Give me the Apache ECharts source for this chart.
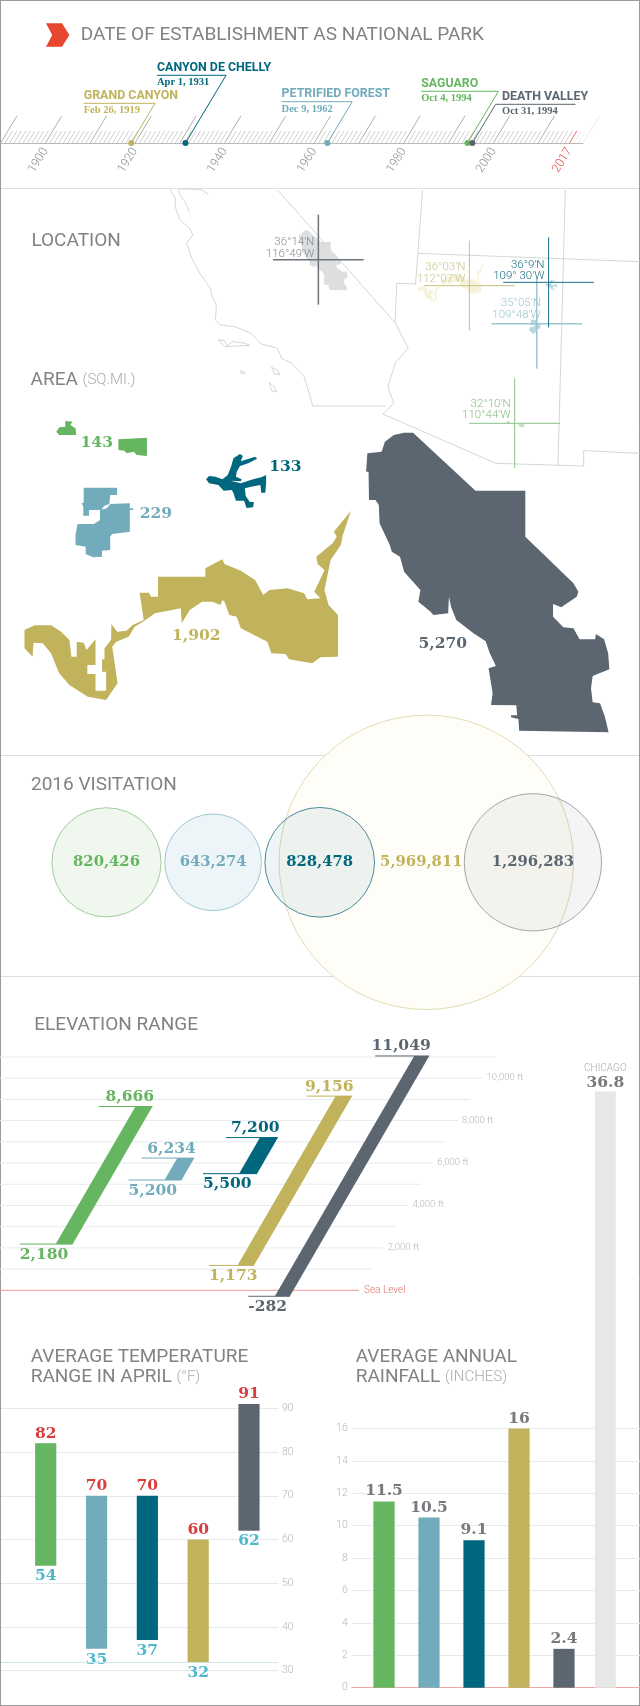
<!DOCTYPE html>
<html>
<head>
<meta charset="utf-8">
<title>National parks</title>
<script src="https://cdn.jsdelivr.net/npm/echarts@6/dist/echarts.min.js"></script>
<style>
html, body { margin: 0; padding: 0; background: #fff; }
#chart { width: 640px; height: 1706px; }
</style>
</head>
<body>
<div id="chart"></div>
<script>
// same park order everywhere
var parks = ['SAGUARO', 'PETRIFIED FOREST', 'CANYON DE CHELLY', 'GRAND CANYON', 'DEATH VALLEY'];
var establishDates = ['Oct 4, 1994', 'Dec 9, 1962', 'Apr 1, 1931', 'Feb 26, 1919', 'Oct 31, 1994'];
var establishYears = [1994.2, 1962.94, 1931.25, 1919.15, 1995.3];
var timelineLabels = [1900, 1920, 1940, 1960, 1980, 2000, 2017];
var latitudes = ['32°10′N', '35°05′N', '36°9′N', '36°03′N', '36°14′N'];
var longitudes = ['110°44′W', '109°48′W', '109° 30′W', '112°07′W', '116°49′W'];
var areas = ['143', '229', '133', '1,902', '5,270'];
var visitors = [820426, 643274, 828478, 5969811, 1296283];
var elevationLow = [2180, 5200, 5500, 1173, -282];
var elevationHigh = [8666, 6234, 7200, 9156, 11049];
var elevationTicks = [0, 1000, 2000, 3000, 4000, 5000, 6000, 7000, 8000, 9000, 10000, 11000];
var tempLow = [54, 35, 37, 32, 62];
var tempHigh = [82, 70, 70, 60, 91];
var rainfall = [11.5, 10.5, 9.1, 16, 2.4];
var chicagoRainfall = 36.8;

// outlines and map lines, x 0-1568 across the page, y 3 units per pixel
var saguaroWest = [[160,3],[178,5],[172,15],[185,25],[187,45],[145,45],[138,35],[145,22],[160,20]];
var saguaroEast = [[290,58],[360,53],[360,108],[335,105],[328,95],[310,100],[305,92],[290,90]];
var petrifiedNorth = [[205,203],[287,203],[287,225],[270,225],[268,252],[255,258],[248,270],[218,270],[218,287],[204,287],[204,260],[200,250],[205,248]];
var petrifiedSouth = [[270,252],[318,250],[318,265],[326,265],[326,270],[318,270],[318,335],[275,342],[270,350],[270,390],[250,392],[250,410],[228,412],[210,402],[210,380],[185,375],[185,345],[190,312],[230,312],[245,300],[245,270],[262,265]];
var chellyOutline = [[505,178],[512,168],[528,170],[545,178],[558,165],[566,140],[572,115],[588,102],[595,108],[590,124],[625,110],[630,116],[608,130],[588,138],[580,155],[578,170],[592,178],[590,184],[565,182],[590,190],[620,178],[640,172],[652,165],[652,190],[650,218],[640,218],[638,195],[615,200],[600,205],[602,228],[612,246],[622,246],[620,262],[604,264],[598,242],[578,242],[572,220],[568,210],[548,212],[535,195],[512,190]];
var grandOutline = [[60,630],[85,616],[125,616],[150,635],[170,660],[175,710],[188,710],[188,665],[205,668],[212,690],[234,658],[234,735],[214,735],[214,762],[234,762],[234,812],[260,812],[260,755],[250,755],[250,718],[256,718],[256,685],[272,660],[273,612],[287,635],[310,632],[325,615],[352,600],[342,518],[365,518],[370,530],[387,530],[387,470],[503,470],[503,445],[545,418],[550,432],[590,452],[625,480],[645,525],[660,510],[705,505],[745,520],[753,538],[785,535],[770,515],[780,490],[795,450],[778,432],[775,410],[815,370],[825,350],[818,335],[860,272],[840,345],[835,375],[810,420],[795,510],[805,555],[828,585],[828,710],[785,712],[765,730],[708,718],[700,702],[665,700],[655,665],[590,625],[580,590],[562,585],[550,545],[545,540],[540,555],[520,545],[495,545],[465,570],[445,610],[443,565],[380,580],[350,605],[330,620],[315,650],[285,665],[275,680],[288,790],[260,840],[215,830],[170,795],[145,760],[125,700],[105,670],[82,668],[80,710],[60,685]];
var deathOutline = [[990,38],[1012,38],[1165,212],[1287,212],[1287,350],[1405,490],[1417,515],[1413,530],[1375,562],[1355,552],[1355,590],[1380,622],[1405,625],[1420,658],[1458,658],[1460,642],[1480,658],[1490,700],[1493,748],[1452,768],[1448,805],[1452,847],[1470,850],[1482,890],[1491,937],[1272,932],[1270,897],[1252,892],[1252,886],[1267,886],[1265,856],[1203,855],[1207,820],[1197,745],[1215,738],[1200,700],[1190,664],[1160,640],[1118,600],[1105,560],[1100,530],[1098,580],[1062,585],[1055,575],[1025,545],[1030,510],[990,455],[980,410],[960,395],[955,375],[930,310],[928,255],[920,240],[904,240],[903,155],[897,155],[900,100],[935,95],[943,65],[965,45]];
var parkOutlines = [[saguaroWest, saguaroEast], [petrifiedNorth, petrifiedSouth], [chellyOutline], [grandOutline], [deathOutline]];

var coastLine = [[415,-3],[430,25],[429,50],[441,90],[465,115],[472,135],[457,160],[470,205],[490,250],[515,295],[520,320],[530,345],[528,390],[540,405],[575,410],[615,430],[640,462],[680,475],[690,505],[715,520],[745,560],[760,620],[766,648],[945,648]];
var bayLine = [[437,-3],[441,15],[453,35],[464,65]];
var deltaLine = [[441,-3],[470,-3],[494,0],[510,13]];
var nevadaLine = [[680,0],[968,398]];
var riverLine = [[1024,190],[1018,282],[972,280],[968,398],[1000,475],[970,515],[950,590],[965,640],[938,672],[1215,820],[1430,828],[1430,782],[1568,790]];
var utahLine = [[1035,0],[1024,190],[1568,215]];
var newMexicoLine = [[1385,0],[1367,828]];
var islandA = [[535,450],[550,452],[556,468],[570,455],[600,460],[612,466],[580,468],[550,470],[535,450]];
var islandB = [[665,532],[680,540],[685,554],[672,552],[665,532]];
var islandC = [[660,578],[672,590],[678,606],[665,602],[660,578]];
var islandD = [[590,542],[600,546],[598,552],[590,550],[590,542]];
var borderLines = [coastLine, bayLine, deltaLine, nevadaLine, riverLine, utahLine, newMexicoLine, islandA, islandB, islandC, islandD];

var parkColors = ['#66b561', '#72abbb', '#00677e', '#c1b35c', '#5b6670'];
var serif = '"DejaVu Serif"';
var sans = 'Roboto';
var gridColor = '#e7eaec';
var titleColor = '#808285';

function txt(text, x, y, fill, font, align) {
    return {
        type: 'text',
        x: x,
        y: y,
        z2: 5,
        style: {
            text: text,
            fill: fill,
            font: font,
            align: align || 'center',
            verticalAlign: 'middle',
            textAlign: align || 'center',
            textVerticalAlign: 'middle'
        }
    };
}
function line(p1, p2, color, width, z2) {
    return {
        type: 'line',
        z2: z2 || 1,
        shape: { x1: p1[0], y1: p1[1], x2: p2[0], y2: p2[1] },
        style: { stroke: color, lineWidth: width || 1 }
    };
}
function indexRows(list) {
    return list.map(function (d, i) { return [i]; });
}

function renderBorders(params, api) {
    var pts = borderLines[params.dataIndex].map(function (p) {
        return api.coord([p[0], p[1] + 570]);
    });
    return {
        type: 'polyline',
        shape: { points: pts },
        style: { stroke: '#c9cbcc', lineWidth: 0.8, fill: null }
    };
}

// little copies on the map, big ones in the area section
var bigCentres = [[249,55],[255,307],[578,183],[460,556],[1195,487]];
var mapCentres = [[1262,702],[1311,410],[1350,285],[1105,277],[792,211]];
var mapFills = ['#c6e2c3', '#bcd6de', '#b3d2da', '#f6f2dc', '#dcdee0'];
var crossColors = ['#8cc588', '#9cc6d0', '#1a6f86', '#c9c27e', '#6b747c'];
var crossWidths = [1, 1.5, 1, 1, 1.5];
var crossX = [1261, 1315, 1344, 1150, 780];
var crossY = [700, 401, 277, 287, 209];
var crossTextRight = [1251, 1325, 1334, 1140, 770];
var crossTextTop = [642, 340, 224, 232, 157];
var crossTextFill = ['#85bd80', '#9cc3cd', '#1c6f84', '#c9c48f', '#85898d'];

function renderMapParks(params, api) {
    var i = params.dataIndex;
    var children = parkOutlines[i].map(function (outline) {
        return {
            type: 'polygon',
            shape: { points: outline.map(function (p) {
                return api.coord([
                    mapCentres[i][0] + (p[0] - bigCentres[i][0]) * 0.2,
                    mapCentres[i][1] + 570 + (p[1] - bigCentres[i][1]) * 0.2
                ]);
            }) },
            style: { fill: mapFills[i] }
        };
    });
    var cx = crossX[i], cy = crossY[i] + 570;
    children.push(line(api.coord([cx, cy - 135]), api.coord([cx, cy + 135]), crossColors[i], crossWidths[i]));
    children.push(line(api.coord([cx - 111, cy]), api.coord([cx + 111, cy]), crossColors[i], crossWidths[i]));
    var right = crossTextRight[i], top = crossTextTop[i] + 570;
    var a = api.coord([right, top]), b = api.coord([right, top + 34]);
    children.push(txt(latitudes[i], a[0], a[1], crossTextFill[i], '300 11.5px ' + sans, 'right'));
    children.push(txt(longitudes[i], b[0], b[1], crossTextFill[i], '300 11.5px ' + sans, 'right'));
    return { type: 'group', children: children };
}

var areaLabelAt = [[237,68],[382,283],[699,142],[481,648],[1085,672]];

function renderAreaParks(params, api) {
    var i = params.dataIndex;
    var children = parkOutlines[i].map(function (outline) {
        return {
            type: 'polygon',
            shape: { points: outline.map(function (p) { return api.coord([p[0], p[1] + 1260]); }) },
            style: { fill: parkColors[i] }
        };
    });
    var c = api.coord([areaLabelAt[i][0], areaLabelAt[i][1] + 1260]);
    children.push(txt(areas[i], c[0], c[1], parkColors[i], 'bold 15.5px ' + serif));
    return { type: 'group', children: children };
}

// timeline: y axis is just pixels above the baseline, ticks lean 0.6 px per px
var LEAN = 0.6;
var tickYears = [];
for (var yr = 1890; yr <= 2020; yr++) tickYears.push(yr);

function renderTicks(params, api) {
    var year = tickYears[params.dataIndex];
    var base = api.coord([year, 0]);
    var isMajor = year % 10 === 0;
    var h = isMajor ? 27.3 : 12;
    var color = isMajor ? '#9a9a9a' : '#c4c4c4';
    if (year > 2017) color = isMajor ? '#e4e4e4' : '#ececec';
    if (year === 2017) color = '#e5483f';
    if (year === 2017) h = 12;
    return line(base, [base[0] + h * LEAN, base[1] - h], color, 0.8);
}

var calloutHeight = [51.7, 41.3, 67.7, 39.7, 38.7];
var calloutLeft = [421.2, 281.6, 157, 83.7, 575.5];
var labelLeft = [421.2, 281.6, 157, 83.7, 502];

function renderCallouts(params, api) {
    var i = params.dataIndex;
    var dot = api.coord([establishYears[i], 0]);
    var h = calloutHeight[i];
    var top = [dot[0] + h * LEAN, dot[1] - h];
    var color = parkColors[i];
    return {
        type: 'group',
        children: [
            { type: 'polyline', z2: 2, shape: { points: [[calloutLeft[i], top[1]], top, dot] }, style: { stroke: color, lineWidth: 1, fill: null } },
            { type: 'circle', z2: 3, shape: { cx: dot[0], cy: dot[1], r: 3 }, style: { fill: color } },
            txt(parks[i], labelLeft[i], top[1] - 7.7, color, 'bold 12.4px ' + sans, 'left'),
            txt(establishDates[i], labelLeft[i], top[1] + 7.4, color, 'bold 10.5px "Liberation Serif"', 'left')
        ]
    };
}

// visitation circle area goes with the visitor count
var circleFills = ['#f0f7ee', '#edf5f8', 'rgba(0,103,126,0.07)', '#fffdf7', 'rgba(91,102,112,0.07)'];
var circleStrokes = ['#8cc088', '#8dbac6', '#1d6f84', '#d8d3a0', '#8b9096'];

function renderVisitors(params, api) {
    var i = params.dataIndex;
    var c = api.coord([i, 0]);
    // the gold figure sits left of centre so it clears the dark circle
    var labelX = i === 3 ? c[0] - 5 : c[0];
    return {
        type: 'group',
        children: [
            {
                type: 'circle',
                z2: i === 3 ? 0 : 1,
                shape: { cx: c[0], cy: c[1], r: Math.sqrt(visitors[i]) * 0.1205 / 2 },
                style: { fill: circleFills[i], stroke: circleStrokes[i], lineWidth: 0.8 }
            },
            txt(visitors[i].toLocaleString('en-US'), labelX, c[1], parkColors[i], 'bold 14.8px ' + serif)
        ]
    };
}

// elevation: bars and grid ends lean right with height
var ELEV_LEAN = 12.3 / 1000;
var elevBarRight = [45.9, 117.6, 189.4, 239.5, 293.3];
var elevBarWidth = [17, 17, 18, 16.5, 15];
var elevLineTop = [54, 52.6, 52, 45, 54];
var elevLineLow = [53, 53, 54, 45, 41.6];

function renderElevationGrid(params, api) {
    var e = elevationTicks[params.dataIndex];
    var p = api.coord([359 + 12.36 * e / 1000, e]);
    var start = api.coord([0, e]);
    var children = [line(start, p, e === 0 ? '#ee9a97' : gridColor, 1)];
    if (e === 0) {
        children.push(txt('Sea Level', p[0] + 5, p[1], '#e5706a', '300 10px ' + sans, 'left'));
    } else if (e % 2000 === 0) {
        children.push(txt(e.toLocaleString('en-US') + ' ft', p[0] + 4, p[1] - 0.5, '#b4b6b8', '300 9.5px ' + sans, 'left'));
    }
    return { type: 'group', children: children };
}

function renderElevationBars(params, api) {
    var i = params.dataIndex;
    var low = elevationLow[i], high = elevationHigh[i];
    var right = function (e) { return elevBarRight[i] + e * ELEV_LEAN; };
    var w = elevBarWidth[i], color = parkColors[i];
    var lowR = api.coord([right(low), low]);
    var highR = api.coord([right(high), high]);
    var lowL = api.coord([right(low) - w, low]);
    var highL = api.coord([right(high) - w, high]);
    var fmt = function (v) { return v.toLocaleString('en-US'); };
    return {
        type: 'group',
        children: [
            { type: 'polygon', z2: 2, shape: { points: [lowL, lowR, highR, highL] }, style: { fill: color } },
            line([highR[0] - elevLineTop[i], highR[1]], highR, color, 1, 2),
            line([lowR[0] - elevLineLow[i], lowR[1]], lowR, color, 1, 2),
            txt(fmt(high), highR[0] + 1.5, highR[1] - 9.5, color, 'bold 15.5px ' + serif, 'right'),
            txt(fmt(low), lowR[0] - elevLineLow[i], lowR[1] + 10.5, color, 'bold 15.5px ' + serif, 'left')
        ]
    };
}

function renderTemps(params, api) {
    var i = params.dataIndex;
    var top = api.coord([i, tempHigh[i]]);
    var bottom = api.coord([i, tempLow[i]]);
    return {
        type: 'group',
        children: [
            { type: 'rect', shape: { x: top[0] - 10.6, y: top[1], width: 21.2, height: bottom[1] - top[1] }, style: { fill: parkColors[i] } },
            txt(String(tempHigh[i]), top[0], top[1] - 9.7, '#d93c3c', 'bold 15.5px ' + serif),
            txt(String(tempLow[i]), bottom[0], bottom[1] + 10.7, '#4fb8cc', 'bold 15.5px ' + serif)
        ]
    };
}

function renderRain(params, api) {
    var i = params.dataIndex;
    var top = api.coord([i, rainfall[i]]);
    var base = api.coord([i, 0]);
    return {
        type: 'group',
        children: [
            { type: 'rect', shape: { x: top[0] - 10.6, y: top[1], width: 21.2, height: base[1] - top[1] }, style: { fill: parkColors[i] } },
            txt(String(rainfall[i]), top[0], top[1] - 10, '#77797c', 'bold 15.5px ' + serif)
        ]
    };
}

function renderChicago(params, api) {
    var top = api.coord([4.92, chicagoRainfall]);
    var base = api.coord([4.92, 0]);
    return {
        type: 'group',
        children: [
            { type: 'rect', shape: { x: top[0] - 10.4, y: top[1], width: 20.8, height: base[1] - top[1] }, style: { fill: '#e6e8e8' } },
            txt('36.8', top[0], top[1] - 8.2, '#77797c', 'bold 15.5px ' + serif),
            txt('CHICAGO', top[0], top[1] - 22.8, '#a9abad', '300 10px ' + sans)
        ]
    };
}

function sectionTitle(text, left, centre) {
    return {
        text: text,
        left: left,
        top: centre - 10,
        padding: 0,
        textStyle: {
            color: titleColor,
            fontFamily: sans,
            fontSize: 19,
            fontWeight: 400,
            lineHeight: 20,
            rich: {
                a: { color: titleColor, fontFamily: sans, fontSize: 19, fontWeight: 400, lineHeight: 20 },
                u: { color: '#a9abad', fontFamily: sans, fontSize: 15, fontWeight: 300, lineHeight: 20 }
            }
        }
    };
}

function hiddenAxis(min, max, grid, extra) {
    var a = { type: 'value', show: false, min: min, max: max, gridIndex: grid };
    if (extra) a.inverse = true;
    return a;
}

var option = {
    backgroundColor: '#fff',
    animation: false,
    title: [
        sectionTitle('DATE OF ESTABLISHMENT AS NATIONAL PARK', 80.8, 35.5),
        sectionTitle('LOCATION', 31.4, 241),
        sectionTitle('{a|AREA} {u|(SQ.MI.)}', 30.6, 380),
        sectionTitle('2016 VISITATION', 31, 785),
        sectionTitle('ELEVATION RANGE', 34.3, 1025),
        sectionTitle('{a|AVERAGE TEMPERATURE}\n{a|RANGE IN APRIL} {u|(°F)}', 30.7, 1357),
        sectionTitle('{a|AVERAGE ANNUAL}\n{a|RAINFALL} {u|(INCHES)}', 355.7, 1357)
    ],
    graphic: [
        { type: 'line', shape: { x1: 0, y1: 188.5, x2: 640, y2: 188.5 }, style: { stroke: '#dedfe0', lineWidth: 1 } },
        { type: 'line', shape: { x1: 0, y1: 755.5, x2: 640, y2: 755.5 }, style: { stroke: '#dedfe0', lineWidth: 1 } },
        { type: 'line', shape: { x1: 0, y1: 976.5, x2: 640, y2: 976.5 }, style: { stroke: '#dedfe0', lineWidth: 1 } },
        { type: 'line', shape: { x1: 0.5, y1: 0, x2: 0.5, y2: 1706 }, style: { stroke: '#9a9a9a', lineWidth: 1 } },
        { type: 'line', shape: { x1: 0, y1: 0.5, x2: 640, y2: 0.5 }, style: { stroke: '#9a9a9a', lineWidth: 1 } },
        { type: 'line', shape: { x1: 0, y1: 1705.5, x2: 640, y2: 1705.5 }, style: { stroke: '#9a9a9a', lineWidth: 1 } },
        { type: 'line', shape: { x1: 639.5, y1: 0, x2: 639.5, y2: 1706 }, style: { stroke: '#9a9a9a', lineWidth: 1 } },
        { type: 'polygon', shape: { points: [[46,23.3],[62,23.3],[69.4,35],[62,46.7],[46,46.7],[52.2,35]] }, style: { fill: '#e8472f' } }
    ],
    grid: [
        { left: 0, top: 0, width: 640, height: 1706 },
        { left: 0.7, top: 0, width: 582.3, height: 143 },
        { left: 53.2, top: 762.3, width: 533, height: 200 },
        { left: 0, top: 1057, width: 640, height: 233.3 },
        { left: 1, top: 1408.3, width: 277, height: 262.4 },
        { left: 351.7, top: 1428.5, width: 288.3, height: 259.2 }
    ],
    xAxis: [
        hiddenAxis(0, 1568, 0),
        {
            type: 'value',
            gridIndex: 1,
            min: 1890,
            max: 2020,
            splitLine: { show: false },
            axisTick: { show: false },
            axisLine: { show: true, lineStyle: { color: '#b9b9b9', width: 1 } },
            axisLabel: {
                customValues: timelineLabels,
                rotate: 58,
                margin: 6,
                fontFamily: sans,
                fontSize: 12,
                fontWeight: 300,
                formatter: function (v) { return String(v); },
                color: function (v) { return +v === 2017 ? '#e5483f' : '#8f8f8f'; }
            }
        },
        { type: 'category', show: false, gridIndex: 2, data: parks },
        hiddenAxis(0, 640, 3),
        hiddenAxis(-0.88, 4.571, 4),
        {
            type: 'value',
            gridIndex: 5,
            min: -0.718,
            max: 5.689,
            splitLine: { show: false },
            axisTick: { show: false },
            axisLabel: { show: false },
            axisLine: { show: true, onZero: false, lineStyle: { color: '#efa9a5', width: 1 } }
        }
    ],
    yAxis: [
        hiddenAxis(0, 5118, 0, true),
        hiddenAxis(0, 143, 1),
        hiddenAxis(-1, 1, 2),
        hiddenAxis(0, 11000, 3),
        {
            type: 'value',
            gridIndex: 4,
            position: 'right',
            min: 30,
            max: 90,
            interval: 10,
            axisLine: { show: false },
            axisTick: { show: false },
            axisLabel: { margin: 4, color: '#b4b6b8', fontFamily: sans, fontWeight: 300, fontSize: 10.5 },
            splitLine: { lineStyle: { color: gridColor, width: 1 } }
        },
        {
            type: 'value',
            gridIndex: 5,
            position: 'left',
            min: 0,
            max: 16,
            interval: 2,
            axisLine: { show: false },
            axisTick: { show: false },
            axisLabel: { margin: 4, color: '#b4b6b8', fontFamily: sans, fontWeight: 300, fontSize: 10.5 },
            splitLine: { lineStyle: { color: gridColor, width: 1 } }
        }
    ],
    series: [
        { type: 'custom', xAxisIndex: 0, yAxisIndex: 0, data: indexRows(borderLines), renderItem: renderBorders, silent: true },
        { type: 'custom', xAxisIndex: 0, yAxisIndex: 0, data: indexRows(parks), renderItem: renderMapParks, silent: true },
        { type: 'custom', xAxisIndex: 0, yAxisIndex: 0, data: indexRows(parks), renderItem: renderAreaParks, silent: true },
        { type: 'custom', xAxisIndex: 1, yAxisIndex: 1, data: indexRows(tickYears), renderItem: renderTicks, silent: true },
        { type: 'custom', xAxisIndex: 1, yAxisIndex: 1, data: indexRows(parks), renderItem: renderCallouts, silent: true },
        { type: 'custom', xAxisIndex: 2, yAxisIndex: 2, data: indexRows(visitors), renderItem: renderVisitors, silent: true },
        { type: 'custom', xAxisIndex: 3, yAxisIndex: 3, data: indexRows(elevationTicks), renderItem: renderElevationGrid, silent: true },
        { type: 'custom', xAxisIndex: 3, yAxisIndex: 3, data: indexRows(parks), renderItem: renderElevationBars, silent: true },
        {
            type: 'custom',
            xAxisIndex: 4,
            yAxisIndex: 4,
            data: indexRows(parks),
            renderItem: renderTemps,
            silent: true,
            markLine: {
                silent: true,
                symbol: 'none',
                label: { show: false },
                lineStyle: { color: '#cfe6ec', width: 1, type: 'solid' },
                data: [{ yAxis: 32 }]
            }
        },
        { type: 'custom', xAxisIndex: 5, yAxisIndex: 5, data: indexRows(rainfall), renderItem: renderRain, silent: true },
        { type: 'custom', xAxisIndex: 5, yAxisIndex: 5, data: [[0]], renderItem: renderChicago, silent: true }
    ]
};

var chart = echarts.init(document.getElementById('chart'));
chart.setOption(option);
</script>
</body>
</html>
